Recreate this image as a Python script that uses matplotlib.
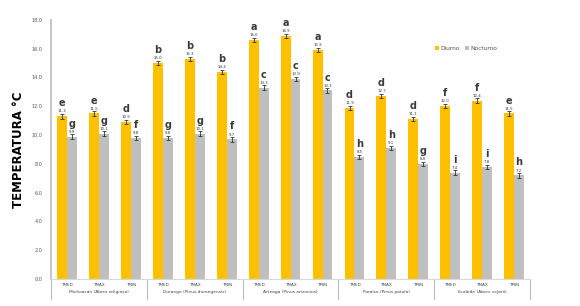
import numpy as np
import matplotlib.pyplot as plt

# datos
sitios = ['Michoacán (Abies religiosa)', 'Durango (Pinus durangensis)', 'Arteaga (Pinus arizonica)',
          'Paraíso (Pinus patula)', 'Iturbide (Abies vejarii)']
tratamientos = ['TMED', 'TMAX', 'TMIN']
diurno = [11.3, 11.5, 10.9, 15.0, 15.3, 14.4, 16.6, 16.9, 15.9, 11.9, 12.7, 11.1, 12.0, 12.4, 11.5]
nocturno = [9.9, 10.1, 9.8, 9.8, 10.1, 9.7, 13.3, 13.9, 13.1, 8.5, 9.1, 8.0, 7.4, 7.8, 7.2]
err_d = [0.15] * 15
err_n = [0.15] * 15
letras_d = ['e', 'e', 'd', 'b', 'b', 'b', 'a', 'a', 'a', 'd', 'd', 'd', 'f', 'f', 'e']
letras_n = ['g', 'g', 'f', 'g', 'g', 'f', 'c', 'c', 'c', 'h', 'h', 'g', 'i', 'i', 'h']

col_d = '#FFC000'
col_n = '#BFBFBF'

fig = plt.figure(figsize=(5.8, 3.06), dpi=100)
ax = fig.add_axes([0.088, 0.088, 0.826, 0.847])

x = np.arange(len(diurno))
w = 0.31
ax.bar(x - w / 2, diurno, w, color=col_d, label='Diurno', zorder=2)
ax.bar(x + w / 2, nocturno, w, color=col_n, label='Nocturno', zorder=2)
ax.errorbar(x - w / 2, diurno, yerr=err_d, fmt='none', ecolor='#333333', elinewidth=0.6, capsize=1.2, capthick=0.6, zorder=3)
ax.errorbar(x + w / 2, nocturno, yerr=err_n, fmt='none', ecolor='#333333', elinewidth=0.6, capsize=1.2, capthick=0.6, zorder=3)

# etiquetas de valor y letras
for i in range(len(diurno)):
    ax.text(x[i] - w / 2, diurno[i] + 0.2, f'{diurno[i]:.1f}', ha='center', va='bottom', fontsize=2.8, color='#333333')
    ax.text(x[i] - w / 2, diurno[i] + 0.55, letras_d[i], ha='center', va='bottom', fontsize=7, fontweight='bold', color='#3a3a3a')
    ax.text(x[i] + w / 2, nocturno[i] + 0.2, f'{nocturno[i]:.1f}', ha='center', va='bottom', fontsize=2.8, color='#333333')
    ax.text(x[i] + w / 2, nocturno[i] + 0.55, letras_n[i], ha='center', va='bottom', fontsize=7, fontweight='bold', color='#3a3a3a')

ax.set_xlim(-0.5, len(diurno) - 0.5)
ax.set_ylim(0, 18)
ax.set_yticks(np.arange(0, 18.1, 2))
ax.set_yticklabels([f'{v:.1f}' for v in np.arange(0, 18.1, 2)], fontsize=3.5, color='#555555')
ax.tick_params(axis='y', length=0, pad=6)
ax.set_xticks([])

for s in ['top', 'right']:
    ax.spines[s].set_visible(False)
ax.spines['left'].set_color('#C8C8C8')
ax.spines['left'].set_linewidth(1.5)
ax.spines['bottom'].set_color('#D9D9D9')
ax.spines['bottom'].set_linewidth(0.8)

# etiquetas del eje x en dos niveles
for i in range(len(diurno)):
    ax.text(x[i], -0.3, tratamientos[i % 3], ha='center', va='top', fontsize=3, color='#444444')
for g, nombre in enumerate(sitios):
    ax.text(3 * g + 1, -0.75, nombre, ha='center', va='top', fontsize=3.2, color='#444444')
for g in range(len(sitios) + 1):
    ax.plot([3 * g - 0.5, 3 * g - 0.5], [0, -1.35], color='#BBBBBB', lw=0.8, clip_on=False)

ax.set_ylabel('TEMPERATURA °C', fontsize=8.5, fontweight='bold', family='Liberation Sans Narrow', labelpad=5)

ax.legend(loc='upper left', bbox_to_anchor=(0.79, 0.92), ncol=2, frameon=False, fontsize=4.2,
          handlelength=0.7, handleheight=0.7, handletextpad=0.3, columnspacing=0.8, labelcolor='#555555')

fig.savefig('out.png', dpi=100)
